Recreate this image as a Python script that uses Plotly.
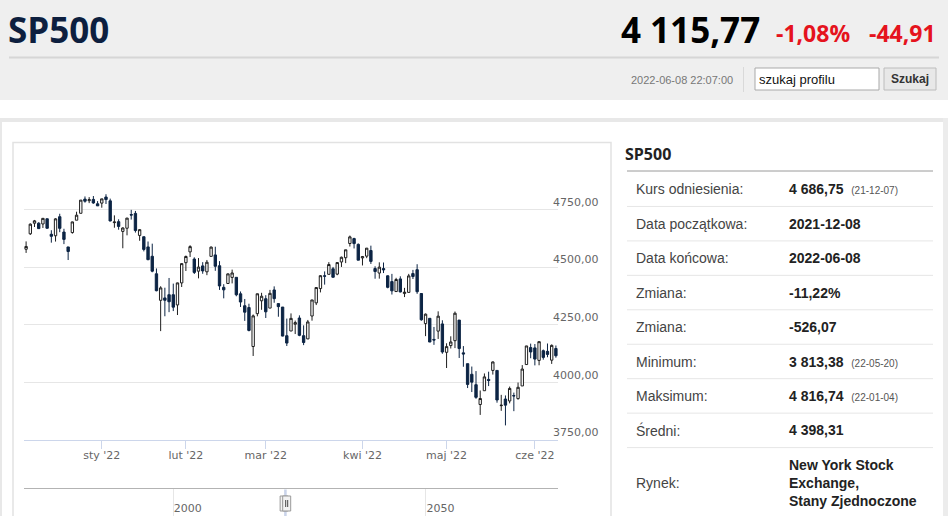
import plotly.graph_objects as go

# --- dane notowań (dzienne świece) ---
dates = [
    "2021-12-06", "2021-12-07", "2021-12-08", "2021-12-09", "2021-12-10",
    "2021-12-13", "2021-12-14", "2021-12-15", "2021-12-16", "2021-12-17",
    "2021-12-20", "2021-12-22", "2021-12-23", "2021-12-27", "2021-12-28",
    "2021-12-29", "2021-12-30", "2021-12-31",
    "2022-01-03", "2022-01-04", "2022-01-05", "2022-01-06", "2022-01-07",
    "2022-01-10", "2022-01-11", "2022-01-12", "2022-01-13", "2022-01-14",
    "2022-01-18", "2022-01-19", "2022-01-20", "2022-01-21", "2022-01-24",
    "2022-01-25", "2022-01-26", "2022-01-27", "2022-01-28", "2022-01-31",
    "2022-02-01", "2022-02-02", "2022-02-03", "2022-02-04", "2022-02-07",
    "2022-02-08", "2022-02-09", "2022-02-10", "2022-02-11", "2022-02-14",
    "2022-02-15", "2022-02-16", "2022-02-17", "2022-02-18", "2022-02-22",
    "2022-02-23", "2022-02-24", "2022-02-25", "2022-02-28",
    "2022-03-01", "2022-03-02", "2022-03-03", "2022-03-04", "2022-03-07",
    "2022-03-08", "2022-03-09", "2022-03-10", "2022-03-11", "2022-03-14",
    "2022-03-15", "2022-03-16", "2022-03-17", "2022-03-18", "2022-03-21",
    "2022-03-22", "2022-03-23", "2022-03-24", "2022-03-25", "2022-03-28",
    "2022-03-29", "2022-03-30", "2022-03-31",
    "2022-04-01", "2022-04-04", "2022-04-05", "2022-04-06", "2022-04-07",
    "2022-04-08", "2022-04-11", "2022-04-12", "2022-04-13", "2022-04-14",
    "2022-04-18", "2022-04-19", "2022-04-20", "2022-04-21", "2022-04-22",
    "2022-04-25", "2022-04-26", "2022-04-27", "2022-04-28", "2022-04-29",
    "2022-05-02", "2022-05-03", "2022-05-04", "2022-05-05", "2022-05-06",
    "2022-05-09", "2022-05-10", "2022-05-11", "2022-05-12", "2022-05-13",
    "2022-05-16", "2022-05-17", "2022-05-18", "2022-05-19", "2022-05-20",
    "2022-05-23", "2022-05-24", "2022-05-25", "2022-05-26", "2022-05-27",
    "2022-05-31",
    "2022-06-01", "2022-06-02", "2022-06-03", "2022-06-06", "2022-06-07",
    "2022-06-08",
]

opens = [
    4578, 4645, 4690.86, 4691.00, 4687.64, 4710.30, 4642.99, 4636.46, 4719.13, 4652.50,
    4587.90, 4650.36, 4703.96, 4733.99, 4795.49, 4788.64, 4794.23, 4775.21,
    4778.14, 4804.51, 4787.99, 4693.39, 4697.66, 4655.34, 4669.14, 4728.59, 4733.56, 4637.99,
    4632.24, 4588.03, 4547.35, 4471.38, 4356.32, 4366.64, 4380.58, 4380.58, 4336.19, 4431.79,
    4519.57, 4566.39, 4535.41, 4482.79, 4505.75, 4480.02, 4547.00, 4553.24, 4506.27, 4412.61,
    4429.28, 4455.75, 4456.06, 4384.57, 4332.74, 4324.93, 4155.77, 4298.38, 4354.17,
    4363.14, 4322.56, 4401.31, 4342.12, 4327.01, 4202.66, 4223.10, 4252.55, 4279.50, 4202.75,
    4188.82, 4288.14, 4345.11, 4407.34, 4462.40, 4469.10, 4493.10, 4469.98, 4522.66, 4541.09,
    4602.86, 4624.20, 4599.02,
    4540.32, 4547.97, 4572.45, 4494.17, 4474.65, 4494.15, 4462.64, 4437.59, 4394.30, 4449.12,
    4385.63, 4390.63, 4472.26, 4489.17, 4385.83, 4255.34, 4278.14, 4186.52, 4222.58, 4253.75,
    4130.61, 4159.78, 4181.18, 4270.43, 4128.17, 4081.27, 4035.18, 3990.08, 3903.95, 3963.90,
    4013.02, 4052.00, 4051.98, 3899.00, 3927.76, 3919.42, 3942.94, 3929.59, 3984.60, 4077.43,
    4151.09,
    4149.78, 4095.41, 4137.57, 4134.72, 4096.47, 4147.12,
]

highs = [
    4612, 4690, 4705.06, 4695.26, 4713.57, 4710.30, 4660.47, 4712.60, 4731.99, 4666.70,
    4587.90, 4697.67, 4740.74, 4791.49, 4807.02, 4804.06, 4808.93, 4786.83,
    4796.64, 4816.74, 4797.70, 4725.01, 4707.95, 4673.02, 4714.13, 4748.83, 4744.13, 4665.13,
    4632.24, 4611.55, 4602.11, 4494.52, 4417.35, 4411.01, 4453.23, 4428.74, 4432.72, 4516.89,
    4550.49, 4595.31, 4542.88, 4539.66, 4521.86, 4531.32, 4590.03, 4588.92, 4526.33, 4426.22,
    4472.77, 4489.55, 4456.06, 4394.60, 4362.12, 4341.51, 4294.73, 4385.34, 4388.84,
    4378.45, 4401.48, 4416.78, 4342.12, 4327.01, 4276.94, 4299.40, 4268.28, 4291.01, 4247.57,
    4271.05, 4357.86, 4412.67, 4465.40, 4481.75, 4522.00, 4501.07, 4520.58, 4546.03, 4575.65,
    4637.30, 4627.77, 4603.07,
    4548.70, 4583.50, 4593.45, 4503.94, 4521.16, 4520.41, 4464.35, 4471.00, 4453.92, 4460.46,
    4410.31, 4471.03, 4488.29, 4512.94, 4385.83, 4299.02, 4278.14, 4240.71, 4308.45, 4269.68,
    4169.81, 4200.10, 4307.66, 4270.43, 4157.69, 4081.27, 4068.82, 4049.09, 3964.80, 4038.88,
    4046.46, 4090.72, 4051.98, 3945.96, 3943.42, 3981.88, 3955.68, 3999.33, 4075.14, 4158.49,
    4168.34,
    4166.54, 4177.51, 4142.67, 4168.78, 4164.86, 4160.14,
]

lows = [
    4562, 4640, 4674.52, 4665.98, 4670.24, 4667.60, 4606.52, 4611.22, 4651.89, 4600.22,
    4531.10, 4645.53, 4703.96, 4733.99, 4780.04, 4778.08, 4775.33, 4765.75,
    4758.17, 4774.27, 4699.44, 4671.26, 4662.74, 4582.24, 4638.27, 4706.71, 4650.29, 4614.75,
    4568.70, 4530.20, 4477.95, 4395.34, 4222.62, 4287.11, 4304.80, 4309.50, 4292.46, 4414.02,
    4483.53, 4544.32, 4470.39, 4451.50, 4471.47, 4465.40, 4547.00, 4484.31, 4401.41, 4364.84,
    4429.28, 4429.68, 4373.81, 4327.22, 4267.11, 4221.51, 4114.65, 4286.83, 4315.12,
    4279.54, 4322.56, 4345.56, 4284.98, 4199.85, 4157.87, 4223.10, 4209.80, 4200.49, 4161.72,
    4187.90, 4267.92, 4335.65, 4390.57, 4424.30, 4469.10, 4455.81, 4465.17, 4501.07, 4517.69,
    4589.66, 4581.32, 4530.41,
    4507.57, 4539.21, 4514.17, 4450.04, 4450.30, 4474.60, 4408.38, 4381.34, 4392.70, 4390.77,
    4370.30, 4390.63, 4448.76, 4384.47, 4267.62, 4200.82, 4175.04, 4162.90, 4188.63, 4124.28,
    4062.51, 4147.08, 4148.91, 4106.01, 4067.91, 3975.48, 3958.17, 3928.82, 3858.87, 3963.90,
    3983.99, 4033.93, 3911.91, 3876.58, 3813.38, 3909.04, 3875.13, 3925.03, 3984.60, 4077.43,
    4104.88,
    4073.85, 4074.37, 4098.67, 4109.18, 4080.19, 4107.20,
]

closes = [
    4590, 4686.75, 4701.21, 4667.45, 4712.02, 4668.97, 4634.09, 4709.85, 4668.67, 4620.64,
    4568.02, 4696.56, 4725.79, 4791.19, 4786.35, 4793.06, 4778.73, 4766.18,
    4796.56, 4793.54, 4700.58, 4696.05, 4677.03, 4670.29, 4713.07, 4726.35, 4659.03, 4662.85,
    4577.11, 4532.76, 4482.73, 4397.94, 4410.13, 4356.45, 4349.93, 4326.51, 4431.85, 4515.55,
    4546.54, 4589.38, 4477.44, 4500.53, 4483.87, 4521.54, 4587.18, 4504.08, 4418.64, 4401.67,
    4471.07, 4475.01, 4380.26, 4348.87, 4304.76, 4225.50, 4288.70, 4384.65, 4373.94,
    4306.26, 4386.54, 4363.49, 4328.87, 4201.09, 4170.70, 4277.88, 4259.52, 4204.31, 4173.11,
    4262.45, 4357.86, 4411.67, 4463.12, 4461.18, 4511.61, 4456.24, 4520.16, 4543.06, 4575.52,
    4631.60, 4602.45, 4530.41,
    4545.86, 4582.64, 4525.12, 4481.15, 4500.21, 4488.28, 4412.53, 4397.45, 4446.59, 4392.59,
    4391.69, 4462.21, 4459.45, 4393.66, 4271.78, 4296.12, 4175.20, 4183.96, 4287.50, 4131.93,
    4155.38, 4175.48, 4300.17, 4146.87, 4123.34, 3991.24, 4001.05, 3935.18, 3930.08, 4023.89,
    4008.01, 4088.85, 3923.68, 3900.79, 3901.36, 3973.75, 3941.48, 3978.73, 4057.84, 4158.24,
    4132.15,
    4101.23, 4176.82, 4108.54, 4121.43, 4160.68, 4115.77,
]

month_ticks = ["2022-01-03", "2022-02-01", "2022-03-01", "2022-04-01", "2022-05-02", "2022-06-01"]
month_labels = ["sty '22", "lut '22", "mar '22", "kwi '22", "maj '22", "cze '22"]
price_ticks = [3750, 4000, 4250, 4500, 4750, 5000]
price_labels = ["3750,00", "4000,00", "4250,00", "4500,00", "4750,00", ""]

# nawigator (oś lat) i zaznaczony zakres
nav_ticks = [2000, 2050]
nav_range = [1970.46, 2076.12]
nav_window = [2021.93, 2022.44]

# nagłówek
title = "SP500"
last_price = "4 115,77"
change_pct = "-1,08%"
change_abs = "-44,91"
timestamp = "2022-06-08 22:07:00"

# tabela po prawej
stats_labels = ["Kurs odniesienia:", "Data początkowa:", "Data końcowa:", "Zmiana:",
                "Zmiana:", "Minimum:", "Maksimum:", "Średni:", "Rynek:"]
stats_values = ["4 686,75", "2021-12-08", "2022-06-08", "-11,22%", "-526,07",
                "3 813,38", "4 816,74", "4 398,31",
                "New York Stock<br>Exchange,<br>Stany Zjednoczone"]
stats_notes = ["(21-12-07)", "", "", "", "", "(22-05-20)", "(22-01-04)", "", ""]

W, H = 948, 516


def px(x):
    return x / W


def py(y):
    return 1 - y / H


fig = go.Figure()

fig.add_trace(go.Candlestick(
    x=dates, open=opens, high=highs, low=lows, close=closes,
    increasing=dict(fillcolor="white", line=dict(color="#1e1e1e", width=1)),
    decreasing=dict(fillcolor="#0c2444", line=dict(color="#0c2444", width=1)),
    whiskerwidth=0, showlegend=False, xaxis="x", yaxis="y",
))

# pusta seria, żeby oś nawigatora się narysowała
fig.add_trace(go.Scatter(
    x=nav_window, y=[0.5, 0.5], xaxis="x2", yaxis="y2", mode="lines",
    line=dict(width=0, color="rgba(0,0,0,0)"), hoverinfo="skip", showlegend=False,
))

tick_font = dict(family="DejaVu Sans", size=11, color="#666666")

fig.update_layout(
    width=W, height=H,
    margin=dict(l=0, r=0, t=0, b=0),
    paper_bgcolor="white", plot_bgcolor="white",
    boxgap=0.2,
    xaxis=dict(
        type="category", domain=[px(24), px(558)], anchor="y",
        range=[-0.5, len(dates) - 0.5],
        rangeslider=dict(visible=False),
        tickvals=month_ticks, ticktext=month_labels,
        ticks="outside", ticklen=8, tickcolor="#ccd6eb",
        showline=True, linecolor="#ccd6eb", linewidth=1,
        showgrid=False, tickfont=tick_font, ticklabelstandoff=-3,
    ),
    yaxis=dict(
        domain=[py(440), py(152)], anchor="x", side="right",
        range=[3750, 5000], tickvals=price_ticks, ticktext=price_labels,
        showgrid=True, gridcolor="#e6e6e6", gridwidth=1,
        showline=False, zeroline=False, ticks="",
        tickfont=tick_font, ticklabelposition="outside top", ticklabelstandoff=-6,
    ),
    xaxis2=dict(
        domain=[px(24), px(558)], anchor="y2", side="top",
        range=nav_range, tickvals=nav_ticks,
        ticklabelposition="inside right", ticklabelstandoff=12,
        showline=True, linecolor="#b3b3b3", linewidth=1,
        showgrid=True, gridcolor="#e6e6e6", zeroline=False, ticks="",
        tickfont=tick_font,
    ),
    yaxis2=dict(domain=[0, py(489)], anchor="x2", range=[0, 1], visible=False),
)

shapes = []


def rect(x0, y0, x1, y1, fill, line=None, lw=0, layer="below"):
    shapes.append(dict(type="rect", xref="paper", yref="paper",
                       x0=px(x0), x1=px(x1), y0=py(y0), y1=py(y1),
                       fillcolor=fill, line=dict(color=line or fill, width=lw), layer=layer))


def hline(x0, x1, y, color, lw=1):
    shapes.append(dict(type="line", xref="paper", yref="paper",
                       x0=px(x0), x1=px(x1), y0=py(y), y1=py(y),
                       line=dict(color=color, width=lw)))


def vline(x, y0, y1, color, lw=1):
    shapes.append(dict(type="line", xref="paper", yref="paper",
                       x0=px(x), x1=px(x), y0=py(y0), y1=py(y1),
                       line=dict(color=color, width=lw)))


# nagłówek strony
rect(0, 0, W, 100, "#efefef")
hline(9, 939, 57.5, "#d6d6d6", 2)
vline(743.5, 67, 92, "#d9d9d9")
rect(755, 68, 879, 90, "white", "#a9a9a9", 1, layer="above")
rect(884, 68, 936, 90, "#e8e8e8", "#bcbcbc", 1, layer="above")

# ramka treści
rect(0, 118, W, 122, "#e8e8e8")
rect(0, 118, 2, H, "#e8e8e8")
rect(943, 118, W, H, "#ececec")
shapes.append(dict(type="rect", xref="paper", yref="paper",
                   x0=px(13), x1=px(611), y0=py(142.5), y1=py(H + 5),
                   line=dict(color="#e2e2e2", width=1.5), layer="below"))

# tabela po prawej
hline(627, 933, 171, "#9a9a9a", 1)
row_h = 34.45
for k in range(len(stats_labels) - 1):
    hline(627, 933, 172 + row_h * (k + 1), "#e6e6e6", 1)

# nawigator: zaznaczenie i uchwyty
shapes.append(dict(type="rect", xref="x2", yref="paper",
                   x0=nav_window[0], x1=nav_window[1], y0=0, y1=py(489.5),
                   fillcolor="rgba(102,133,194,0.35)", line=dict(width=0), layer="above"))
for edge in nav_window:
    shapes.append(dict(type="rect", xref="x2", yref="paper", xsizemode="pixel",
                       xanchor=edge, x0=-4, x1=4, y0=py(511), y1=py(496),
                       fillcolor="#f2f2f2", line=dict(color="#999999", width=1)))
    for off in (-1, 1):
        shapes.append(dict(type="line", xref="x2", yref="paper", xsizemode="pixel",
                           xanchor=edge, x0=off, x1=off, y0=py(507), y1=py(500),
                           line=dict(color="#444444", width=1)))

annotations = []


def text(x, y, s, size, color, family="Liberation Sans", xanchor="left", bold=False, align="left"):
    annotations.append(dict(
        xref="paper", yref="paper", x=px(x), y=py(y), text=f"<b>{s}</b>" if bold else s,
        showarrow=False, xanchor=xanchor, yanchor="middle", align=align,
        font=dict(family=family, size=size, color=color), borderpad=0,
    ))


text(7, 30, title, 35, "#0d1f3f", family="Open Sans", bold=True)
text(761, 30, last_price, 35, "#000000", family="Open Sans", xanchor="right", bold=True)
text(775, 33, change_pct, 23, "#e5131d", family="Open Sans", bold=True)
text(937, 33, change_abs, 23, "#e5131d", family="Open Sans", xanchor="right", bold=True)
text(734, 80, timestamp, 11, "#777777", xanchor="right")
text(758, 79, "szukaj profilu", 13, "#111111")
text(910, 79, "Szukaj", 12, "#333333", xanchor="center", bold=True)

text(624, 154, title, 16, "#222222", family="Open Sans", bold=True)
for k, (lab, val, note) in enumerate(zip(stats_labels, stats_values, stats_notes)):
    yc = 189.3 + row_h * k if k < len(stats_labels) - 1 else 483
    text(635, yc, lab, 14, "#444444")
    s = f"<b>{val}</b>"
    if note:
        s += f"&nbsp;&nbsp;<span style='font-size:10px;color:#555555'>{note}</span>"
    text(788, yc, s, 14, "#222222")

fig.update_layout(shapes=shapes, annotations=annotations)

# strona bez domyślnego marginesu przeglądarki
fig.write_html("out.html", config={"displayModeBar": False},
               post_script="document.body.style.margin='0';document.body.style.overflow='hidden';")
